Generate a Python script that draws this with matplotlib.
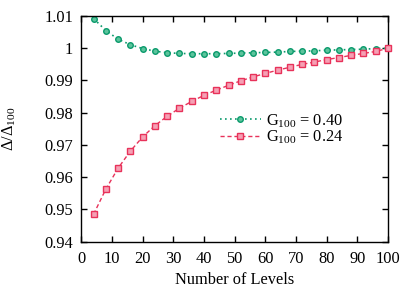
import matplotlib
matplotlib.use("Agg")
import matplotlib.pyplot as plt

levels = [4, 8, 12, 16, 20, 24, 28, 32, 36, 40, 44, 48, 52, 56, 60, 64, 68, 72, 76, 80, 84, 88, 92, 96, 100]
g040 = [1.0092, 1.0055, 1.0028, 1.0011, 0.9999, 0.9991, 0.9986, 0.9984, 0.9983, 0.9983,
        0.9983, 0.9984, 0.9985, 0.9986, 0.9987, 0.9988, 0.9990, 0.9991, 0.9992, 0.9994,
        0.9995, 0.9996, 0.9997, 0.9999, 1.0]
g024 = [0.9485, 0.9563, 0.9628, 0.9681, 0.9725, 0.9760, 0.9789, 0.9814, 0.9835, 0.9854,
        0.9870, 0.9885, 0.9899, 0.9911, 0.9922, 0.9932, 0.9941, 0.9950, 0.9957, 0.9965,
        0.9971, 0.9978, 0.9984, 0.9990, 1.0]
xticks = [0, 10, 20, 30, 40, 50, 60, 70, 80, 90, 100]
yticks = [0.94, 0.95, 0.96, 0.97, 0.98, 0.99, 1.0, 1.01]
yticklabels = ["0.94", "0.95", "0.96", "0.97", "0.98", "0.99", "1", "1.01"]

plt.rcParams['font.family'] = ['Liberation Serif', 'DejaVu Serif']
plt.rcParams['mathtext.fontset'] = 'custom'
plt.rcParams['mathtext.rm'] = 'Liberation Serif'
plt.rcParams['mathtext.it'] = 'Liberation Serif:italic'

fs = 11.8
fig = plt.figure(figsize=(4.15, 2.9), dpi=100)
ax = fig.add_axes([81.3/415, 1 - 241.7/290, (388 - 81.3)/415, (241.7 - 16)/290])

green = '#0a9a6c'
red = '#e8325a'
ax.plot(levels, g040, linestyle=(0, (1, 2)), color=green, lw=1.2, marker='o', ms=4,
        mfc='#5cc49c', mec=green, mew=1.0, label=r'G$_{100}$ = 0.40', clip_on=False)
ax.plot(levels, g024, linestyle=(0, (3, 2)), color=red, lw=1.0, marker='s', ms=4,
        mfc='#f5a0b4', mec=red, mew=1.0, label=r'G$_{100}$ = 0.24', clip_on=False, zorder=3)

ax.set_xlim(0, 100)
ax.set_ylim(0.94, 1.01)
ax.set_xticks(xticks)
ax.set_yticks(yticks)
ax.set_yticklabels(yticklabels)
ax.tick_params(direction='in', top=True, right=True, length=4, width=1, labelsize=fs)
ax.tick_params(axis='x', pad=7)
ax.tick_params(axis='y', pad=6)
for s in ax.spines.values():
    s.set_linewidth(1.0)
ax.set_xlabel('Number of Levels', fontsize=fs)
ax.xaxis.set_label_coords(0.5, -0.133)
ax.set_ylabel(r'$\Delta/\Delta_{100}$', fontsize=fs)
ax.yaxis.set_label_coords(-0.205, 0.5)

leg = ax.legend(loc='upper left', bbox_to_anchor=(0.425, 0.61), frameon=False, fontsize=fs,
                handlelength=2.5, handletextpad=0.3, labelspacing=-0.04, borderpad=0)

fig.savefig('out.png', dpi=100)
